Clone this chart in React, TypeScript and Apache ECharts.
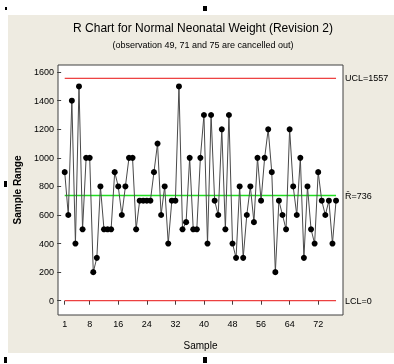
import React, { useEffect, useRef } from "react";
import * as echarts from "echarts";

const sampleRanges: number[] = [
  900, 600, 1400, 400, 1500, 500, 1000, 1000, 200, 300,
  800, 500, 500, 500, 900, 800, 600, 800, 1000, 1000,
  500, 700, 700, 700, 700, 900, 1100, 600, 800, 400,
  700, 700, 1500, 500, 550, 1000, 500, 500, 1000, 1300,
  400, 1300, 700, 600, 1200, 500, 1300, 400, 300, 800,
  300, 600, 800, 550, 1000, 700, 1000, 1200, 900, 200,
  700, 600, 500, 1200, 800, 600, 1000, 300, 800, 500,
  400, 900, 700, 600, 700, 400, 700,
];
const xTickValues: number[] = [1, 8, 16, 24, 32, 40, 48, 56, 64, 72];
const yTickValues: number[] = [0, 200, 400, 600, 800, 1000, 1200, 1400, 1600];
const UCL = 1557;
const RBAR = 736;
const LCL = 0;
const titleText = "R Chart for Normal Neonatal Weight (Revision 2)";
const subtitleText = "(observation 49, 71 and 75 are cancelled out)";

const FONT = "'Liberation Sans', Arial, sans-serif";

export default function App() {
  const ref = useRef<HTMLDivElement>(null);
  useEffect(() => {
    if (!ref.current) return;
    const chart = echarts.init(ref.current, null, { renderer: "svg" });
    const points = sampleRanges.map((v, i) => [i + 1, v]);
    const first = 1;
    const last = sampleRanges.length;
    const limitSeries = (value: number, color: string, label: string, width: number) => ({
      type: "line",
      data: [[first, value], [last, value]],
      showSymbol: false,
      symbol: "none",
      silent: true,
      z: 2,
      lineStyle: { color, width },
      itemStyle: { color },
      endLabel: {
        show: true,
        distance: 9,
        formatter: label,
        color: "#000",
        fontSize: 9,
        fontFamily: FONT,
      },
    });
    chart.setOption({
      animation: false,
      backgroundColor: "transparent",
      textStyle: { fontFamily: FONT },
      graphic: [
        { type: "rect", z: -10, shape: { x: 8, y: 15, width: 386, height: 338 }, style: { fill: "#EEEBE1" }, silent: true },
        { type: "rect", shape: { x: 203, y: 6, width: 4, height: 5 }, style: { fill: "#000" } },
        { type: "rect", shape: { x: 5, y: 7, width: 2, height: 3 }, style: { fill: "#000" } },
        { type: "rect", shape: { x: 4, y: 181, width: 3, height: 6 }, style: { fill: "#000" } },
        { type: "rect", shape: { x: 4, y: 357, width: 3, height: 6 }, style: { fill: "#000" } },
        { type: "rect", shape: { x: 203, y: 357, width: 4, height: 6 }, style: { fill: "#000" } },
        {
          type: "text",
          x: 203,
          y: 28,
          style: { text: titleText, fill: "#000", fontSize: 12, fontFamily: FONT, align: "center", verticalAlign: "middle" },
        },
        {
          type: "text",
          x: 203,
          y: 45,
          style: { text: subtitleText, fill: "#000", fontSize: 9, fontFamily: FONT, align: "center", verticalAlign: "middle" },
        },
      ],
      grid: {
        left: 58,
        top: 65,
        right: 51,
        bottom: 49,
        show: true,
        backgroundColor: "#FFFFFF",
        borderColor: "#404040",
        borderWidth: 1,
      },
      xAxis: {
        type: "value",
        min: -0.88,
        max: 78.95,
        name: "Sample",
        nameLocation: "middle",
        nameGap: 25,
        nameTextStyle: { fontSize: 10, color: "#000", fontFamily: FONT },
        axisLine: { show: false },
        splitLine: { show: false },
        axisTick: { show: true, inside: false, length: 4, customValues: xTickValues, lineStyle: { color: "#404040" } },
        axisLabel: { customValues: xTickValues, fontSize: 9, color: "#000", margin: 4, fontFamily: FONT, formatter: (v: number) => String(v) },
      },
      yAxis: {
        type: "value",
        min: -100,
        max: 1650,
        name: "Sample Range",
        nameLocation: "middle",
        nameGap: 36,
        nameTextStyle: { fontSize: 10, fontWeight: "bold", color: "#000", fontFamily: FONT },
        axisLine: { show: false },
        splitLine: { show: false },
        axisTick: { show: true, inside: false, length: 4, customValues: yTickValues, lineStyle: { color: "#404040" } },
        axisLabel: { customValues: yTickValues, fontSize: 9, color: "#000", margin: 4, fontFamily: FONT, formatter: (v: number) => String(v) },
      },
      series: [
        limitSeries(UCL, "#E81010", "UCL=" + UCL, 1),
        limitSeries(RBAR, "#22DD22", "R\u0304=" + RBAR, 1.4),
        limitSeries(LCL, "#E81010", "LCL=" + LCL, 1),
        {
          type: "line",
          data: points,
          symbol: "circle",
          symbolSize: 6,
          showSymbol: true,
          itemStyle: { color: "#000" },
          lineStyle: { color: "#4a4a4a", width: 1 },
          z: 5,
        },
      ],
    });
    return () => chart.dispose();
  }, []);
  return <div ref={ref} style={{ position: "fixed", left: 0, top: 0, width: 394, height: 364 }} />;
}
